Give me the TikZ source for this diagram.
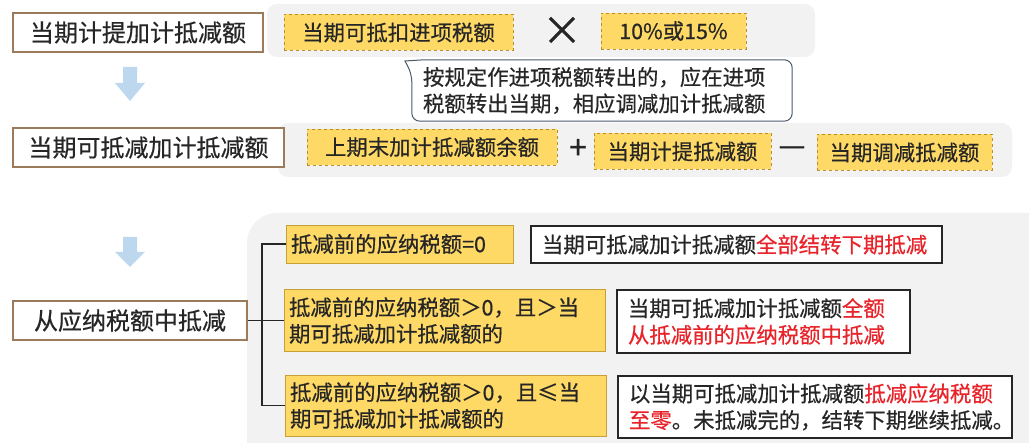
\documentclass[tikz,border=0pt]{standalone}
\usepackage{fontspec}
\setmainfont{Noto Sans CJK SC}[FakeBold=0.5]
\definecolor{ink}{HTML}{262626}
\definecolor{gold}{HTML}{FFD966}
\definecolor{golddash}{HTML}{B8902A}
\definecolor{goldline}{HTML}{C9A035}
\definecolor{headbrown}{HTML}{9C7A5C}
\definecolor{panelgray}{HTML}{F2F2F2}
\definecolor{arrowblue}{HTML}{BDD7EE}
\definecolor{hotred}{HTML}{E8232A}
\definecolor{noteline}{HTML}{4A5868}
\newcommand\hdf{\fontsize{24}{28}\selectfont}
\newcommand\bxf{\fontsize{21.4}{26.5}\selectfont}
\newcommand\hot[1]{\textcolor{hotred}{#1}}

\begin{document}
\begin{tikzpicture}[x=1pt,y=-1pt,
  panel/.style={fill=panelgray,rounded corners=10},
  headbox/.style={draw=headbrown,line width=1.1pt,fill=white,text=ink,font=\hdf,minimum height=39,inner xsep=11},
  dashbox/.style={draw=golddash,dashed,fill=gold,text=ink,font=\bxf,minimum height=36,inner xsep=10},
  casebox/.style={draw=goldline,fill=gold,text=ink,font=\bxf,align=left,inner xsep=5},
  resbox/.style={draw=ink,line width=1.1pt,fill=white,text=ink,font=\bxf,align=left,inner xsep=11},
  opsign/.style={text=ink,inner sep=0}]
\useasboundingbox (0,0) rectangle (1029,443);
% panels behind the formulas
\fill[panel] (267,4) rectangle (815,57);
\fill[panel] (278,123) rectangle (1012,177);
\fill[panel,rounded corners=30] (247,213) rectangle (1060,480);
%
% first formula
\node [headbox,minimum width=250] at (138,32.5) (accrued) {当期计提加计抵减额};
\node [dashbox,minimum width=229] at (398.5,32.5) (input) {当期可抵扣进项税额};
\node [opsign,font=\fontsize{40}{40}\selectfont] at (562,31) (times) {×};
\node [dashbox,minimum width=145] at (673.5,31) (rate) {10\%或15\%};
\node [text=ink,font=\bxf,text width=358,inner xsep=11,minimum height=61,align=left] at (602,90.5) (note)
  {按规定作进项税额转出的，应在进项\\税额转出当期，相应调减加计抵减额};
\coordinate (tip) at (405,61);
\draw[noteline,line width=1pt,rounded corners=8] ([xshift=12]note.north west) -- (note.north east) -- (note.south east)
  -- (note.south west) -- ([yshift=-14]note.north west) [sharp corners] -- (tip) -- cycle;
%
\fill[arrowblue] (123,67) -- ++(14,0) -- ++(0,16) -- ++(8,0) -- ++(-15,18) -- ++(-15,-18) -- ++(8,0) -- cycle;
%
% second formula
\node [headbox,minimum width=271] at (148.5,147.5) (avail) {当期可抵减加计抵减额};
\node [dashbox,minimum width=250] at (432,147) (carried) {上期末加计抵减额余额};
\node [opsign,font=\fontsize{32}{32}\selectfont] at (578,149) (plus) {+};
\node [opsign,font=\fontsize{30}{30}\selectfont] at (792,151) (minus) {—};
\node [dashbox,minimum width=177] at (682.5,151.5) (current) {当期计提抵减额};
\node [dashbox,minimum width=175] at (904.5,152.5) (adjust) {当期调减抵减额};
%
\fill[arrowblue] (123,237) -- ++(14,0) -- ++(0,15) -- ++(8,0) -- ++(-15,15) -- ++(-15,-15) -- ++(8,0) -- cycle;
%
% deduction cases
\node [headbox,minimum width=234] at (130,320.5) (deduct) {从应纳税额中抵减};
\node [casebox,text width=217,minimum height=38] at (399.5,244) (zero) {抵减前的应纳税额=0};
\node [casebox,text width=311,minimum height=62] at (444.5,320.5) (above) {抵减前的应纳税额＞0，且＞当\\期可抵减加计抵减额的};
\node [casebox,text width=311,minimum height=61] at (445.5,405.5) (below) {抵减前的应纳税额＞0，且≤当\\期可抵减加计抵减额的};
\node [resbox,text width=389,minimum height=37] at (736.5,244.5) (allnext) {当期可抵减加计抵减额\hot{全部结转下期抵减}};
\node [resbox,text width=271,minimum height=63] at (763.5,321.5) (allnow) {当期可抵减加计抵减额\hot{全额}\\\hot{从抵减前的应纳税额中抵减}};
\node [resbox,text width=372,minimum height=62] at (815,407) (tozero) {以当期可抵减加计抵减额\hot{抵减应纳税额}\\\hot{至零}。未抵减完的，结转下期继续抵减。};
%
\coordinate (fork) at (262,320.5);
\draw[ink,line width=1.1pt] (deduct.east) -- (above.west);
\draw[ink,line width=1.1pt] (zero.west) -| (fork) |- (below.west);

\end{tikzpicture}
\end{document}
